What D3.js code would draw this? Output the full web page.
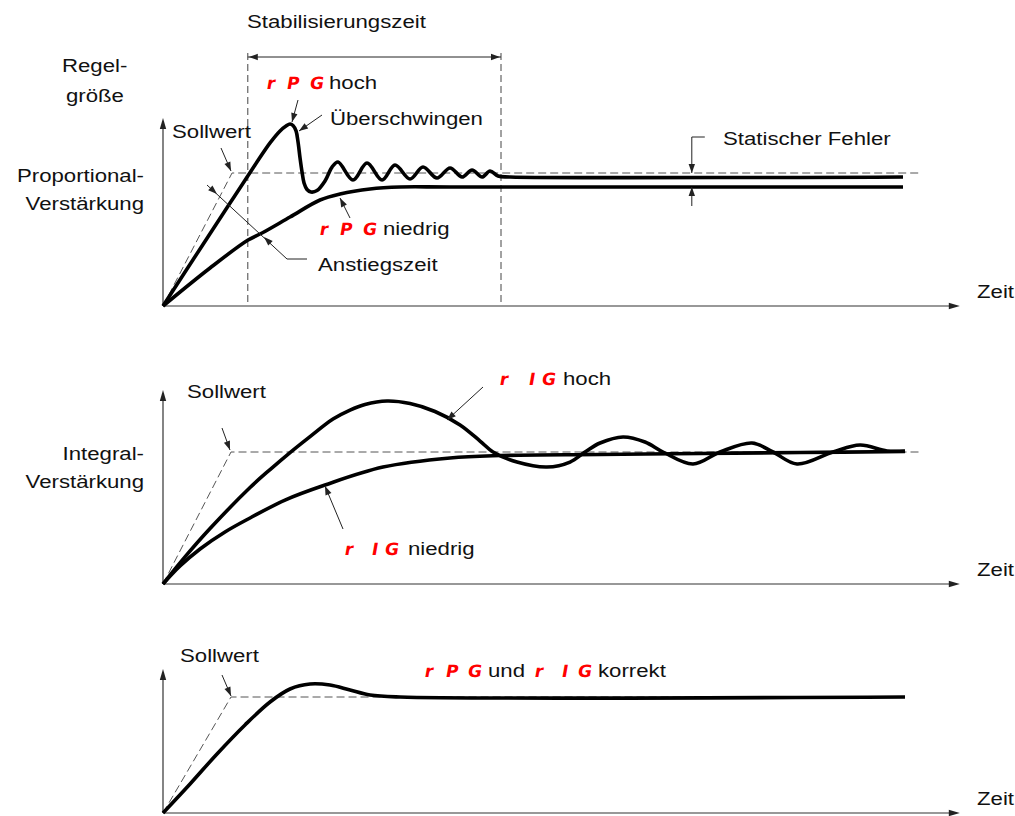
<!DOCTYPE html>
<html><head><meta charset="utf-8">
<script src="https://cdn.jsdelivr.net/npm/d3@7"></script>
<style>body{margin:0;background:#fff}</style>
</head><body>
<svg id="c" width="1015" height="816"></svg>
<script>
// ---------- DATA (time 0..100, value: setpoint = 1) ----------
const timeDomain = [0, 100];
const setpointP  = [[0,0],[8.63,1],[94.4,1]];
const setpointI  = [[0,0],[8.5,1],[94.6,1]];
const setpointPI = [[0,0],[8.5,1],[92.75,1]];
const stabilizationWindow = [10.6, 42.25];
const staticErrorTime = 66.1;

const pgHigh = [[0,0],[4.63,0.429],[8.38,0.774],[11.5,1.06],[13.38,1.226],[14.63,1.316],[15.38,1.353],[15.88,1.368],[16.25,1.357],[16.63,1.316],[16.88,1.233],[17.13,1.113],[17.38,1.008],[17.63,0.925],[18.0,0.876],[18.5,0.857],[19.25,0.868],[20.25,0.94],[21.13,1.045],[21.88,1.083],[23.75,0.947],[25.5,1.075],[27.38,0.947],[29.0,1.06],[30.88,0.955],[32.5,1.045],[34.25,0.962],[35.88,1.038],[37.38,0.97],[38.63,1.023],[39.88,0.97],[40.88,1.015],[41.88,0.977],[43.38,0.97],[92.5,0.97]];
const pgLow = [[0,0],[5.88,0.286],[10.63,0.496],[12.38,0.549],[15.88,0.669],[19.63,0.797],[22.13,0.842],[25.88,0.88],[29.63,0.895],[35.88,0.895],[92.5,0.895]];

const igHigh = [[0,0],[2.75,0.205],[5.88,0.42],[10.88,0.731],[13.38,0.867],[15.88,0.996],[18.38,1.117],[21.25,1.25],[23.38,1.318],[25.25,1.36],[28,1.386],[30.88,1.367],[34,1.307],[37.13,1.205],[39.63,1.083],[41.25,1.0],[44.25,0.924],[48,0.886],[50.88,0.924],[52.75,1.0],[54.63,1.068],[57.5,1.114],[60.25,1.076],[62.5,1.0],[66.25,0.909],[69.63,1.0],[73.63,1.068],[76.25,1.0],[79.25,0.909],[83.75,1.0],[87.13,1.053],[90.5,1.008],[92.75,1.008]];
const igLow = [[0,0],[2.13,0.136],[4.63,0.265],[7.75,0.394],[10.88,0.5],[15.25,0.636],[20.25,0.75],[27.5,0.886],[35.88,0.955],[42.13,0.973],[54.63,0.981],[67.13,0.989],[79.63,0.996],[92.75,1.004]];

const pidOk = [[0,0],[3.38,0.25],[6.75,0.509],[10.25,0.759],[13.38,0.957],[15.88,1.069],[18.38,1.112],[20.88,1.103],[23.38,1.06],[25.88,1.017],[29.63,1.0],[92.75,1.0]];

const axisLabel = "Zeit";

// ---------- DRAWING ----------
const svg = d3.select("#c");
const FONT = "'Liberation Sans', Arial, Helvetica, sans-serif";
const x = d3.scaleLinear().domain(timeDomain).range([163, 963]);
const panels = [
  {y: d3.scaleLinear().domain([0,1]).range([306,173]), top:1.414, sp:setpointP, curves:[pgHigh,pgLow]},
  {y: d3.scaleLinear().domain([0,1]).range([584,452]), top:1.47, sp:setpointI, curves:[igHigh,igLow]},
  {y: d3.scaleLinear().domain([0,1]).range([813,697]), top:1.241, sp:setpointPI, curves:[pidOk]}
];

function arrowHead(g, tx, ty, fx, fy, len=10, w=3.6, col="#222") {
  const dx = tx-fx, dy = ty-fy, L = Math.hypot(dx,dy), ux = dx/L, uy = dy/L;
  const bx = tx-ux*len, by = ty-uy*len;
  g.append("path").attr("d",`M${tx},${ty}L${bx-uy*w},${by+ux*w}L${bx+uy*w},${by-ux*w}Z`).attr("fill",col);
}
function leader(pts, heads, col="#222", sw=1) {
  const g = svg.append("g");
  g.append("path").attr("d", d3.line()(pts)).attr("fill","none").attr("stroke",col).attr("stroke-width",sw);
  heads.forEach(h => arrowHead(g, h[0],h[1],h[2],h[3], 9, 3.2, col));
}
function label(tx, ty, str, anchor="start") {
  svg.append("text").attr("transform",`translate(${tx},${ty}) scale(1.2,1)`)
    .attr("font-family",FONT).attr("font-size","18.5px").attr("fill","#111")
    .attr("text-anchor",anchor).text(str);
}
function seg(glyphs) { // red display-style codes: [[x,y,char],...]
  glyphs.forEach(([gx,gy,ch]) => {
    svg.append("text").attr("transform",`translate(${gx},${gy}) skewX(-10)`)
      .attr("font-family","'DejaVu Sans', sans-serif").attr("font-weight","bold")
      .attr("font-size","17px").attr("fill","#ff0000").text(ch);
  });
}

const line = d3.line().curve(d3.curveCatmullRom.alpha(0.5));

panels.forEach(p => {
  const y = p.y;
  // setpoint dashed
  svg.append("path").attr("d", d3.line().x(d=>x(d[0])).y(d=>y(d[1]))(p.sp))
    .attr("fill","none").attr("stroke","#555").attr("stroke-width",1).attr("stroke-dasharray","8,4");
  // axes
  const ax = svg.append("g");
  ax.append("line").attr("x1",x(0)).attr("x2",x(99.6)-6).attr("y1",y(0)).attr("y2",y(0)).attr("stroke","#333").attr("stroke-width",1.2);
  arrowHead(ax, x(99.6), y(0), x(0), y(0), 11, 3.2, "#222");
  ax.append("line").attr("x1",x(0)).attr("x2",x(0)).attr("y1",y(0)).attr("y2",y(p.top)+6).attr("stroke","#333").attr("stroke-width",1.2);
  arrowHead(ax, x(0), y(p.top), x(0), y(0), 11, 3.2, "#222");
  label(977, y(0)-8, axisLabel);
});

// stabilization window (panel 1)
const p1 = panels[0];
stabilizationWindow.forEach(t => {
  svg.append("line").attr("x1",x(t)).attr("x2",x(t)).attr("y1",53).attr("y2",p1.y(0))
    .attr("stroke","#444").attr("stroke-width",1).attr("stroke-dasharray","7,4");
});
leader([[x(stabilizationWindow[0]),57],[x(stabilizationWindow[1]),57]],
  [[x(stabilizationWindow[0])+1,57,x(stabilizationWindow[1]),57],[x(stabilizationWindow[1])-1,57,x(stabilizationWindow[0]),57]]);

// curves
panels.forEach(p => {
  p.curves.forEach(c => {
    svg.append("path").attr("d", line.x(d=>x(d[0])).y(d=>p.y(d[1]))(c))
      .attr("fill","none").attr("stroke","#000").attr("stroke-width",3.6).attr("stroke-linejoin","round");
  });
});

// ---- panel 1 annotations ----
label(247, 28, "Stabilisierungszeit");
label(62, 72, "Regel-");
label(66, 102, "größe");
label(144, 182, "Proportional-", "end");
label(144, 210, "Verstärkung", "end");
label(172, 138, "Sollwert");
leader([[221,148],[231,171]], [[231,171,221,148]]);
seg([[266,89,"r"],[286,89,"P"],[309,89,"G"]]);
label(329, 89, "hoch");
leader([[298,100],[292,122]], [[292,122,298,100]]);
label(330, 125, "Überschwingen");
leader([[322,115],[299,131]], [[299,131,322,115]]);
seg([[319,235,"r"],[339,235,"P"],[362,235,"G"]]);
label(383, 235, "niedrig");
leader([[350,218],[340,198]], [[340,198,350,218]]);
label(318, 271, "Anstiegszeit");
leader([[207,185],[287,259],[307,259]], [[217,194,207,185],[264,237,287,259]]);
const xe = x(staticErrorTime);
leader([[xe+13,137],[xe,137],[xe,p1.y(1)]], [[xe,p1.y(1),xe,137]]);
leader([[xe,206],[xe,p1.y(pgLow[pgLow.length-1][1])]], [[xe,p1.y(pgLow[pgLow.length-1][1]),xe,206]]);
label(723, 145, "Statischer Fehler");

// ---- panel 2 annotations ----
label(187, 398, "Sollwert");
leader([[222,428],[230,450]], [[230,450,222,428]]);
label(144, 460, "Integral-", "end");
label(144, 488, "Verstärkung", "end");
seg([[499,385,"r"],[528,385,"I"],[541,385,"G"]]);
label(563, 385, "hoch");
leader([[483,387],[447,420]], [[447,420,483,387]]);
seg([[344,555,"r"],[371,555,"I"],[384,555,"G"]]);
label(408, 555, "niedrig");
leader([[343,529],[325,486]], [[325,486,343,529]]);

// ---- panel 3 annotations ----
label(180, 662, "Sollwert");
leader([[222,675],[231,696]], [[231,696,222,675]]);
seg([[424,677,"r"],[445,677,"P"],[467,677,"G"],[534,677,"r"],[561,677,"I"],[577,677,"G"]]);
label(488, 677, "und");
label(598, 677, "korrekt");
</script>
</body></html>
